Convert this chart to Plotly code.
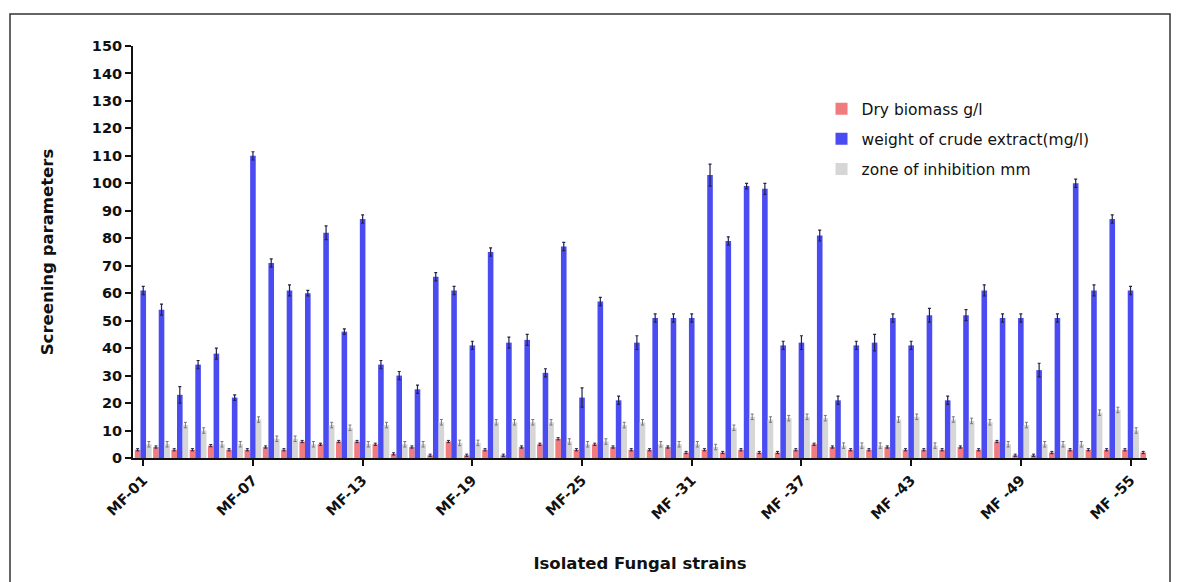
import plotly.graph_objects as go

# Isolated fungal strains MF-01 ... MF-56
strains = [f"MF-{i:02d}" for i in range(1, 57)]

tick_strains = ["MF-01", "MF-07", "MF-13", "MF-19", "MF-25",
                "MF-31", "MF-37", "MF-43", "MF-49", "MF-55"]
tick_labels = ["MF-01", "MF-07", "MF-13", "MF-19", "MF-25",
               "MF -31", "MF -37", "MF -43", "MF -49", "MF -55"]

dry_biomass = [3, 4, 3, 3, 4.5, 3, 3, 4, 3, 6,
               5, 6, 6, 5, 1.5, 4, 1, 6, 1, 3,
               1, 4, 5, 7, 3, 5, 4, 3, 3, 4,
               2, 3, 2, 3, 2, 2, 3, 5, 4, 3,
               3, 4, 3, 3, 3, 4, 3, 6, 1, 1,
               2, 3, 3, 3, 3, 2]
dry_err = [0.4] * 56

crude_extract = [61, 54, 23, 34, 38, 22, 110, 71, 61, 60,
                 82, 46, 87, 34, 30, 25, 66, 61, 41, 75,
                 42, 43, 31, 77, 22, 57, 21, 42, 51, 51,
                 51, 103, 79, 99, 98, 41, 42, 81, 21, 41,
                 42, 51, 41, 52, 21, 52, 61, 51, 51, 32,
                 51, 100, 61, 87, 61, None]
crude_err = [1.5, 2, 3, 1.5, 2, 1, 1.5, 1.5, 2, 1,
             2.5, 1, 1.5, 1.5, 1.5, 1.5, 1.5, 1.5, 1.5, 1.5,
             2, 2, 1.5, 1.5, 3.5, 1.5, 1.5, 2.5, 1.5, 1.5,
             1.5, 4, 1.5, 1, 2, 1.5, 2.5, 2, 1.5, 1.5,
             3, 1.5, 1.5, 2.5, 1.5, 2, 2, 1.5, 1.5, 2.5,
             1.5, 1.5, 2, 1.5, 1.5, 0]

inhibition_zone = [5, 5, 12, 10, 5, 5, 14, 7, 7, 5,
                   12, 11, 5, 12, 5, 5, 13, 5.5, 5.5, 13,
                   13, 13, 13, 6, 5, 6, 12, 13, 5, 5,
                   5, 4, 11, 15, 14, 14.5, 15, 14.5, 4.5, 4.5,
                   4.5, 14, 15, 4.5, 14, 13.5, 13, 5, 12, 5,
                   5, 5, 16.5, 17.5, 10, None]
zone_err = [1] * 56

PINK = "#f27b80"
BLUE = "#4b4bf2"
GREY = "#d6d6d6"
ERR = "#23234a"

fig = go.Figure()
fig.add_trace(go.Bar(
    x=strains, y=dry_biomass, name="Dry biomass g/l",
    marker=dict(color=PINK, line=dict(width=0)),
    error_y=dict(type="data", array=dry_err, color=ERR, thickness=1, width=1.5),
    legendgroup="a",
))
fig.add_trace(go.Bar(
    x=strains, y=crude_extract, name="weight of crude extract(mg/l)",
    marker=dict(color=BLUE, line=dict(width=0)),
    error_y=dict(type="data", array=crude_err, color=ERR, thickness=1.2, width=1.5),
    legendgroup="b",
))
fig.add_trace(go.Bar(
    x=strains, y=inhibition_zone, name="zone of inhibition mm",
    marker=dict(color=GREY, line=dict(width=0)),
    error_y=dict(type="data", array=zone_err, color="#777777", thickness=1, width=1.5),
    legendgroup="c",
))

TICKFONT = dict(family="DejaVu Sans", size=14.5, color="#111111", weight="bold")
TITLEFONT = dict(family="DejaVu Sans", size=16.5, color="#111111", weight="bold")

fig.update_layout(
    width=1177, height=582,
    margin=dict(l=133, r=30, t=46, b=124),
    paper_bgcolor="white", plot_bgcolor="white",
    barmode="group", bargap=0.08, bargroupgap=0,
    showlegend=True,
    legend=dict(
        x=0.679, y=0.888, xanchor="left", yanchor="top",
        font=dict(family="DejaVu Sans", size=15.5, color="#111111"),
        bgcolor="rgba(0,0,0,0)", tracegroupgap=7,
    ),
    xaxis=dict(
        type="category", categoryorder="array", categoryarray=strains,
        range=[-0.56, 54.9],
        tickmode="array", tickvals=tick_strains, ticktext=tick_labels,
        tickangle=-45, tickfont=TICKFONT,
        ticks="outside", ticklen=6, tickwidth=2, tickcolor="#111111",
        showline=True, linecolor="#111111", linewidth=2,
        showgrid=False, zeroline=False,
        title=dict(text="Isolated Fungal strains", font=TITLEFONT, standoff=36),
    ),
    yaxis=dict(
        range=[0, 150], tickmode="linear", tick0=0, dtick=10,
        tickfont=TICKFONT,
        ticks="outside", ticklen=6, tickwidth=2, tickcolor="#111111",
        showline=True, linecolor="#111111", linewidth=2,
        showgrid=False, zeroline=False,
        title=dict(text="Screening parameters", font=TITLEFONT, standoff=34),
    ),
    shapes=[dict(
        type="rect", xref="paper", yref="paper",
        x0=-0.1213, x1=1.0227, y0=-0.33, y1=1.0777,
        line=dict(color="#333333", width=1.5), fillcolor="rgba(0,0,0,0)",
        layer="below",
    )],
)

fig.write_html("out.html")
